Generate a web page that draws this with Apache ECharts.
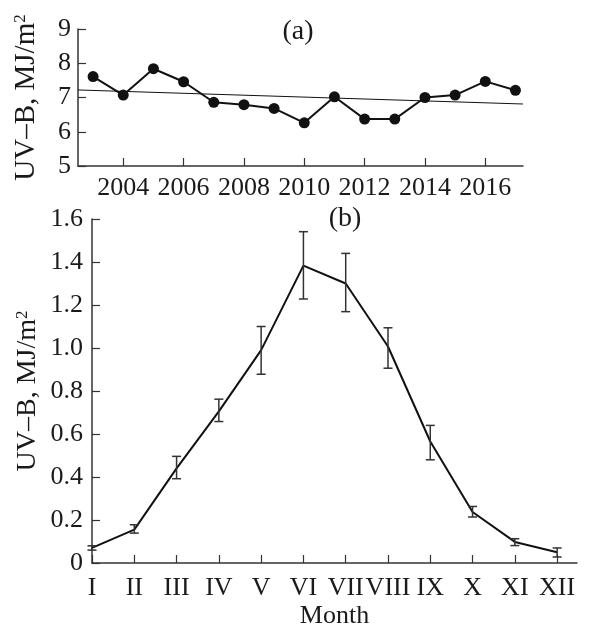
<!DOCTYPE html>
<html>
<head>
<meta charset="utf-8">
<script src="https://cdn.jsdelivr.net/npm/echarts@6/dist/echarts.min.js"></script>
<style>
html,body{margin:0;padding:0;background:#fff;}
#chart{width:605px;height:624px;}
</style>
</head>
<body>
<div id="chart"></div>
<script>
// Panel (a): yearly UV-B
const years = [2003,2004,2005,2006,2007,2008,2009,2010,2011,2012,2013,2014,2015,2016,2017];
const yearlyUVB = [7.61,7.07,7.84,7.46,6.86,6.79,6.68,6.26,7.02,6.37,6.37,7.00,7.07,7.47,7.21];
const trendYears = [2002.5, 2017.25];
const trendValues = [7.22, 6.81];
const yearTicks = [2004,2006,2008,2010,2012,2014,2016];

// Panel (b): monthly UV-B with error bars
const monthLabels = ['I','II','III','IV','V','VI','VII','VIII','IX','X','XI','XII'];
const monthNums = [1,2,3,4,5,6,7,8,9,10,11,12];
const monthlyUVB = [0.07,0.155,0.44,0.705,0.99,1.383,1.30,1.007,0.565,0.237,0.098,0.05];
const errLow  = [0.06,0.139,0.392,0.658,0.878,1.228,1.169,0.906,0.48,0.214,0.081,0.028];
const errHigh = [0.08,0.178,0.496,0.762,1.10,1.541,1.44,1.094,0.64,0.263,0.113,0.07];

const FONT = 'Liberation Serif';
const FS = 26;
const INK = '#1a1a1a';
const AXIS = '#333';

const chart = echarts.init(document.getElementById('chart'), null, {renderer:'canvas'});

const axisLineStyle = {lineStyle:{color:AXIS, width:1.5}};
const tickStyle = {inside:true, length:8, lineStyle:{color:AXIS, width:1.2}};
const labelStyle = {fontFamily:FONT, fontSize:FS, color:INK};

function nameStyle(fs){
  return {fontFamily:FONT, fontSize:fs, color:INK,
    rich:{sup:{fontFamily:FONT, fontSize:Math.round(fs*0.6), color:INK, verticalAlign:'top', padding:[0,0,Math.round(fs*0.35),0]}}};
}

const option = {
  animation:false,
  backgroundColor:'#fff',
  title:[
    {text:'(a)', left:293, top:13, textAlign:'center', textStyle:{fontFamily:FONT, fontSize:28, fontWeight:'normal', color:INK}},
    {text:'(b)', left:340, top:200, textAlign:'center', textStyle:{fontFamily:FONT, fontSize:28, fontWeight:'normal', color:INK}}
  ],
  grid:[
    {left:78, right:82, top:29, height:137, containLabel:false, outerBoundsMode:'none'},
    {left:92, right:28, top:219, height:344, containLabel:false, outerBoundsMode:'none'}
  ],
  xAxis:[
    {
      gridIndex:0, type:'value', min:2002.5, max:2017.25,
      splitLine:{show:false},
      axisLine:axisLineStyle,
      axisTick:Object.assign({customValues:yearTicks}, tickStyle),
      axisLabel:Object.assign({customValues:yearTicks, margin:9, formatter:v=>String(v)}, labelStyle)
    },
    {
      gridIndex:1, type:'value', min:1, max:12.47,
      splitLine:{show:false},
      axisLine:axisLineStyle,
      axisTick:Object.assign({customValues:monthNums}, tickStyle),
      axisLabel:Object.assign({customValues:monthNums, margin:12, formatter:v=>monthLabels[Math.round(v)-1]}, labelStyle),
      name:'Month', nameLocation:'middle', nameGap:40, nameMoveOverlap:false,
      nameTextStyle:{fontFamily:FONT, fontSize:FS, color:INK}
    }
  ],
  yAxis:[
    {
      gridIndex:0, type:'value', min:5, max:9, interval:1,
      splitLine:{show:false},
      axisLine:{show:true, lineStyle:{color:AXIS, width:1.5}},
      axisTick:Object.assign({show:true}, tickStyle),
      axisLabel:Object.assign({margin:7}, labelStyle),
      name:'UV–B, MJ/m{sup|2}', nameLocation:'middle', nameGap:37, nameRotate:90, nameMoveOverlap:false,
      nameTextStyle:nameStyle(29)
    },
    {
      gridIndex:1, type:'value', min:0, max:1.6, interval:0.2,
      splitLine:{show:false},
      axisLine:{show:true, lineStyle:{color:AXIS, width:1.5}},
      axisTick:Object.assign({show:true}, tickStyle),
      axisLabel:Object.assign({margin:9, formatter:v=> v===0 ? '0' : v.toFixed(1)}, labelStyle),
      name:'UV–B, MJ/m{sup|2}', nameLocation:'middle', nameGap:50, nameRotate:90, nameMoveOverlap:false,
      nameTextStyle:nameStyle(28)
    }
  ],
  series:[
    {
      type:'line', xAxisIndex:0, yAxisIndex:0,
      data: years.map((y,i)=>[y, yearlyUVB[i]]),
      symbol:'circle', symbolSize:11,
      itemStyle:{color:'#111'},
      lineStyle:{color:'#111', width:2},
      z:3
    },
    {
      type:'line', xAxisIndex:0, yAxisIndex:0,
      data: trendYears.map((y,i)=>[y, trendValues[i]]),
      symbol:'none',
      lineStyle:{color:'#111', width:1},
      z:2
    },
    {
      type:'line', xAxisIndex:1, yAxisIndex:1,
      data: monthNums.map((m,i)=>[m, monthlyUVB[i]]),
      symbol:'none',
      lineStyle:{color:'#111', width:2},
      z:3
    },
    {
      type:'custom', xAxisIndex:1, yAxisIndex:1,
      data: monthNums.map((m,i)=>[m, errLow[i], errHigh[i]]),
      renderItem:function(params, api){
        const x = api.value(0);
        const lo = api.coord([x, api.value(1)]);
        const hi = api.coord([x, api.value(2)]);
        const hw = 4.5;
        const style = {stroke:'#333', lineWidth:1.5, fill:null};
        return {type:'group', children:[
          {type:'line', shape:{x1:lo[0], y1:lo[1], x2:hi[0], y2:hi[1]}, style:style},
          {type:'line', shape:{x1:lo[0]-hw, y1:lo[1], x2:lo[0]+hw, y2:lo[1]}, style:style},
          {type:'line', shape:{x1:hi[0]-hw, y1:hi[1], x2:hi[0]+hw, y2:hi[1]}, style:style}
        ]};
      },
      z:4
    }
  ]
};
chart.setOption(option);
</script>
</body>
</html>
